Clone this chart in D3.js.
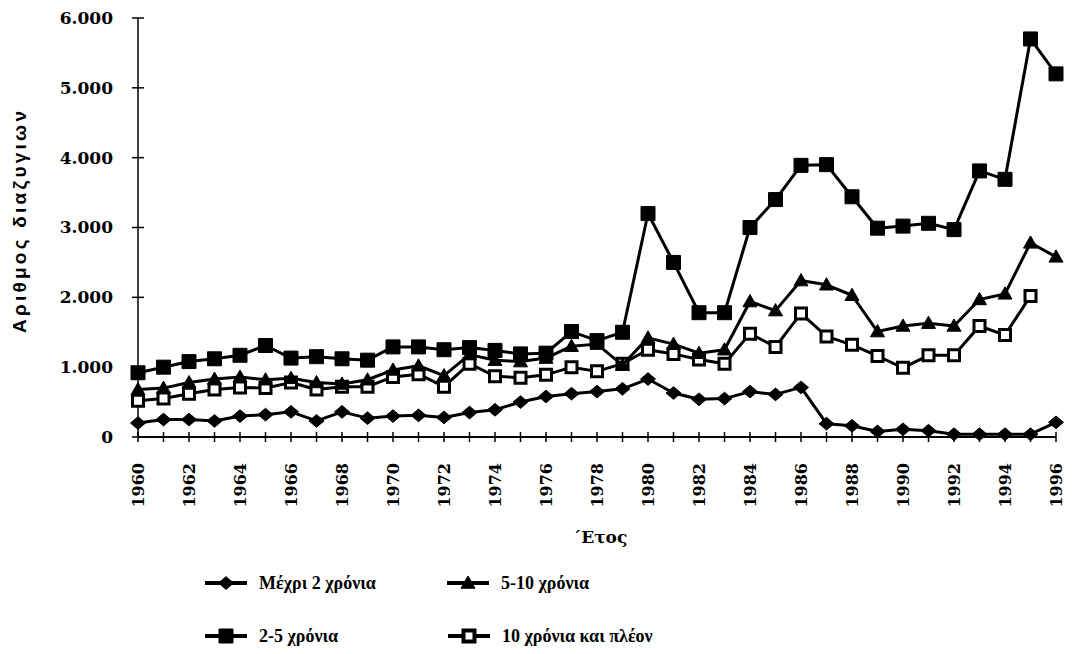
<!DOCTYPE html>
<html>
<head>
<meta charset="utf-8">
<script src="https://cdn.jsdelivr.net/npm/d3@7"></script>
<style>
  body { margin: 0; background: #fff; }
  svg { display: block; }
</style>
</head>
<body>
<div id="chart"></div>
<script>
// data
const years = d3.range(1960, 1997);
const yTicks = [0, 1000, 2000, 3000, 4000, 5000, 6000];
const xTickLabels = d3.range(1960, 1997, 2);

const upTo2 = [200, 250, 250, 230, 300, 320, 360, 230, 360, 270, 300, 310, 280, 350, 390, 500, 580, 620, 650, 690,
  830, 630, 540, 550, 650, 610, 710, 190, 160, 80, 110, 90, 40, 40, 40, 40, 210];
const twoTo5 = [920, 1000, 1080, 1120, 1170, 1310, 1130, 1150, 1120, 1100, 1290, 1290, 1250, 1280, 1240, 1190, 1200, 1510, 1380, 1500,
  3200, 2500, 1780, 1780, 3000, 3400, 3890, 3900, 3440, 2990, 3020, 3060, 2970, 3810, 3690, 5700, 5200];
const fiveTo10 = [680, 700, 780, 830, 860, 820, 840, 780, 760, 820, 960, 1020, 880, 1180, 1100, 1080, 1130, 1300, 1330, 1030,
  1420, 1330, 1200, 1250, 1940, 1810, 2240, 2180, 2030, 1510, 1590, 1630, 1590, 1970, 2050, 2780, 2580];
const tenPlus = [520, 550, 620, 680, 710, 700, 780, 680, 720, 720, 860, 900, 720, 1050, 870, 850, 890, 1000, 940, 1050,
  1250, 1190, 1110, 1050, 1480, 1290, 1770, 1440, 1320, 1160, 990, 1170, 1170, 1590, 1460, 2020, null];

const seriesNames = ["Μέχρι 2 χρόνια", "5-10 χρόνια", "2-5 χρόνια", "10 χρόνια και πλέον"];

const width = 1077, height = 654;

const svg = d3.select("#chart").append("svg")
  .attr("width", width)
  .attr("height", height);

const x = d3.scaleLinear().domain([1960, 1996]).range([138, 1056]);
const y = d3.scaleLinear().domain([0, 6000]).range([437, 18]);

// marker shapes
const shapes = {
  diamond: (s) => `M${-s},0L0,${-s * 0.85}L${s},0L0,${s * 0.85}Z`,
  square: (s) => `M${-s},${-s}H${s}V${s}H${-s}Z`,
  triangle: (s) => `M0,${-s}L${s},${s * 0.75}H${-s}Z`
};

const series = [
  {name: seriesNames[3], values: tenPlus, shape: "square", open: true},
  {name: seriesNames[1], values: fiveTo10, shape: "triangle", open: false},
  {name: seriesNames[2], values: twoTo5, shape: "square", open: false},
  {name: seriesNames[0], values: upTo2, shape: "diamond", open: false}
];
const sizeOf = s => s.open ? 5.5 : (s.shape === "diamond" ? 7.5 : 7);

// axes
const xAxis = svg.append("g").attr("transform", `translate(0,${y(0)})`);
xAxis.append("line")
  .attr("x1", x(1960)).attr("x2", x(1996))
  .attr("stroke", "#000").attr("stroke-width", 2);
xAxis.selectAll("line.tick")
  .data(years)
  .join("line")
  .attr("class", "tick")
  .attr("x1", d => x(d)).attr("x2", d => x(d))
  .attr("y1", -5).attr("y2", 5)
  .attr("stroke", "#000").attr("stroke-width", 1.5);
xAxis.selectAll("text")
  .data(xTickLabels)
  .join("text")
  .attr("transform", d => `translate(${x(d) + 6},26) rotate(-90)`)
  .attr("text-anchor", "end")
  .style("font-family", "DejaVu Serif")
  .style("font-weight", "bold")
  .style("font-size", "16px")
  .text(d => d);

const yAxis = svg.append("g").attr("transform", `translate(${x(1960)},0)`);
yAxis.append("line")
  .attr("y1", y(0)).attr("y2", y(6000))
  .attr("stroke", "#000").attr("stroke-width", 1.5);
yAxis.selectAll("line.tick")
  .data(yTicks)
  .join("line")
  .attr("class", "tick")
  .attr("y1", d => y(d)).attr("y2", d => y(d))
  .attr("x1", -6).attr("x2", 6)
  .attr("stroke", "#000").attr("stroke-width", 1.5);
yAxis.selectAll("text")
  .data(yTicks)
  .join("text")
  .attr("x", -25)
  .attr("y", d => y(d))
  .attr("dy", "0.35em")
  .attr("text-anchor", "end")
  .style("font-family", "DejaVu Serif")
  .style("font-weight", "bold")
  .style("font-size", "17px")
  .text(d => d === 0 ? "0" : d3.format(",")(d).replace(",", "."));

// titles
svg.append("text")
  .attr("transform", "translate(26,222) rotate(-90)")
  .attr("text-anchor", "middle")
  .attr("textLength", 222)
  .attr("lengthAdjust", "spacing")
  .style("font-family", "Liberation Sans")
  .style("font-weight", "bold")
  .style("font-size", "19px")
  .text("Αριθμος διαζυγιων");

svg.append("text")
  .attr("x", 600).attr("y", 543)
  .attr("text-anchor", "middle")
  .style("font-family", "DejaVu Serif")
  .style("font-weight", "bold")
  .style("font-size", "17px")
  .text("΄Ετος");

// lines and markers
const line = d3.line()
  .defined(d => d.v != null)
  .x(d => x(d.year))
  .y(d => y(d.v));

series.forEach(s => {
  const pts = years.map((yr, i) => ({year: yr, v: s.values[i]}));
  svg.append("path")
    .datum(pts)
    .attr("fill", "none")
    .attr("stroke", "#000")
    .attr("stroke-width", 3)
    .attr("stroke-linejoin", "round")
    .attr("d", line);
  svg.append("g")
    .selectAll("path")
    .data(pts.filter(d => d.v != null))
    .join("path")
    .attr("transform", d => `translate(${x(d.year)},${y(d.v)})`)
    .attr("d", shapes[s.shape](sizeOf(s)))
    .attr("fill", s.open ? "#fff" : "#000")
    .attr("stroke", "#000")
    .attr("stroke-width", s.open ? 3 : 1);
});

// legend
const legend = [
  {name: seriesNames[0], shape: "diamond", open: false, lx: 205, ly: 583},
  {name: seriesNames[1], shape: "triangle", open: false, lx: 447, ly: 583},
  {name: seriesNames[2], shape: "square", open: false, lx: 205, ly: 636},
  {name: seriesNames[3], shape: "square", open: true, lx: 448, ly: 636}
];
const lg = svg.append("g").selectAll("g")
  .data(legend)
  .join("g")
  .attr("transform", d => `translate(${d.lx},${d.ly})`);
lg.append("line")
  .attr("x1", 0).attr("x2", 42)
  .attr("stroke", "#000").attr("stroke-width", 4);
lg.append("path")
  .attr("transform", "translate(21,0)")
  .attr("d", d => shapes[d.shape](sizeOf(d)))
  .attr("fill", d => d.open ? "#fff" : "#000")
  .attr("stroke", "#000")
  .attr("stroke-width", d => d.open ? 4 : 1);
lg.append("text")
  .attr("x", 54)
  .attr("dy", "0.35em")
  .style("font-family", "Liberation Serif")
  .style("font-weight", "bold")
  .style("font-size", "18px")
  .text(d => d.name);
</script>
</body>
</html>
